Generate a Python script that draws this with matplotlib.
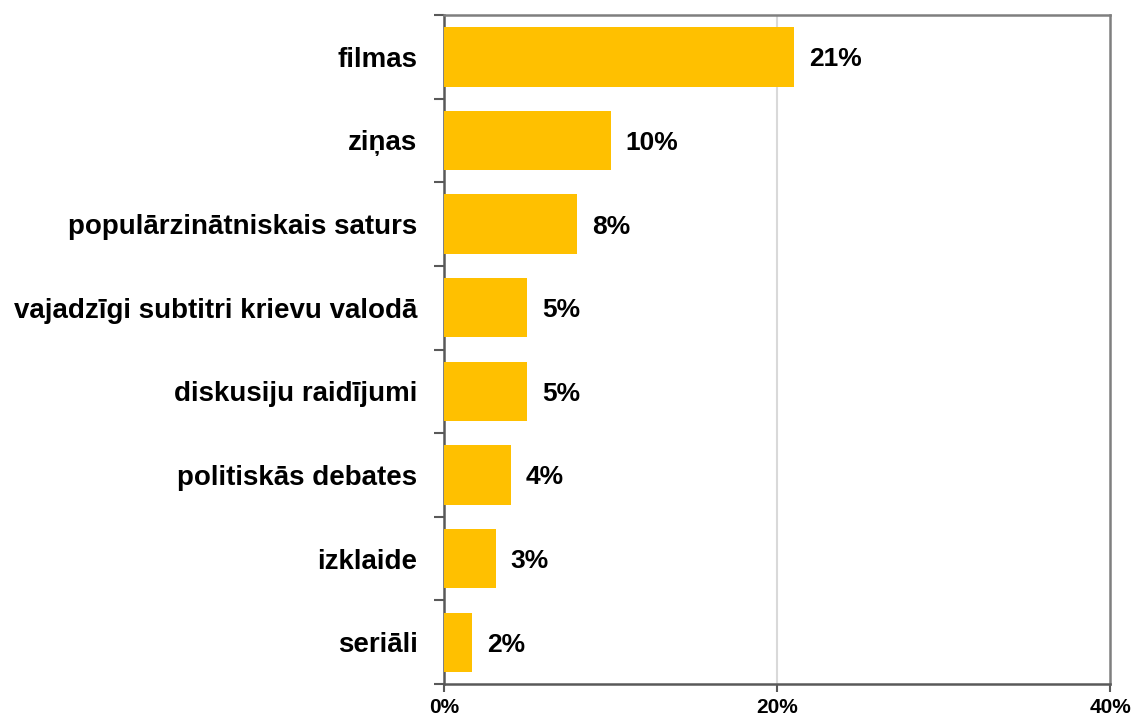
import numpy as np
import matplotlib.pyplot as plt
from matplotlib.ticker import FixedLocator

plt.rcParams['font.family'] = ['Liberation Sans', 'DejaVu Sans']

# data (top to bottom)
categories = ["filmas", "ziņas", "populārzinātniskais saturs",
              "vajadzīgi subtitri krievu valodā", "diskusiju raidījumi",
              "politiskās debates", "izklaide", "seriāli"]
values = [21.0, 10.0, 8.0, 5.0, 5.0, 4.0, 3.1, 1.7]
value_labels = ["21%", "10%", "8%", "5%", "5%", "4%", "3%", "2%"]
x_ticks = [0, 20, 40]
x_tick_labels = ["0%", "20%", "40%"]

bar_color = "#FFC000"
axis_color = "#595959"

fig = plt.figure(figsize=(11.35, 7.17), dpi=100)
ax = fig.add_axes([0.3912, 0.046, 0.5868, 0.933])

y = np.arange(len(categories))
ax.barh(y, values, height=0.71, color=bar_color, zorder=3)

for yi, v, lab in zip(y, values, value_labels):
    ax.text(v + 0.9, yi + 0.03, lab, va='center', ha='left', fontsize=19,
            fontweight='bold', color='black', zorder=4)

ax.set_xlim(0, 40)
ax.set_ylim(len(categories) - 0.5, -0.5)

ax.set_xticks(x_ticks)
ax.set_xticklabels(x_tick_labels, fontsize=15, fontweight='bold')
ax.tick_params(axis='x', length=6, width=1.5, color=axis_color, pad=4)

ax.set_yticks(y)
ax.set_yticklabels(categories, fontsize=20, fontweight='bold')
ax.tick_params(axis='y', which='major', length=0, pad=19)
ax.yaxis.set_minor_locator(FixedLocator(np.arange(-0.5, len(categories), 1.0)))
ax.tick_params(axis='y', which='minor', length=7, width=1.5, color=axis_color)

# gridline at 20%
ax.axvline(20, color="#D9D9D9", linewidth=1.5, zorder=1)

for side in ['left', 'right', 'top', 'bottom']:
    ax.spines[side].set_color(axis_color)
    ax.spines[side].set_linewidth(1.8)
ax.spines['top'].set_color("#7F7F7F")
ax.spines['right'].set_color("#7F7F7F")

plt.savefig("out.png", dpi=100)
